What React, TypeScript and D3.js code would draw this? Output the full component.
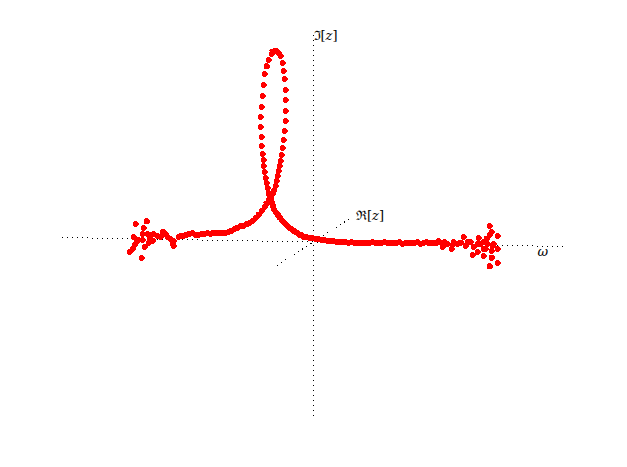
import * as d3 from 'd3';

// [omega, Im z] samples, Re z taken as 0
const leftTail = [
  [-184, -13.4], [-181, -10], [-179, -6.6], [-177, -3.3], [-175, -1], [-180, 1.6],
  [-178, 15], [-167, 17.5], [-170, 11], [-171, 5], [-171, -1], [-169, -8.2],
  [-172, -19], [-165, -4.2], [-164, 0.9], [-166, 5.2], [-163, 3.6], [-161, -1.4],
  [-160, 5.3], [-156, 3.6], [-153, 2], [-151, 7], [-150, 7], [-148, 5.4],
  [-146, 2], [-143, 0.5], [-141, -4.5], [-140, -6.2], [-140, -1.2], [-135, 2.3],
  [-130, 4], [-125, 5.8],
];

const leftRise = [
  [-133, 3.6], [-127, 5.2], [-124, 6.2], [-121, 6.8], [-118, 4.9], [-115, 4.9],
  [-112, 5.5], [-109, 6], [-106, 6.6], [-103, 6.6], [-100, 7.7], [-97, 7.2],
  [-94, 7.3], [-91, 6.9], [-88, 7.4], [-85, 8.9], [-82, 10], [-79, 11.6],
  [-76, 13.1], [-73, 14.2], [-70, 15.2], [-67, 16.3], [-64, 17.8], [-61, 19.9],
  [-58, 22.9], [-55, 26.5], [-52, 30], [-49, 34.1], [-47, 37.6], [-45, 41.2],
];

const loop = [
  [-44, 44.7], [-45, 47.7], [-46, 53.4], [-47, 58.4], [-48, 63.4], [-49, 68.7],
  [-50, 74.7], [-50, 80.7], [-51, 87.4], [-52, 95.4], [-52, 104.4], [-53, 114.4],
  [-53, 124.4], [-52, 134.4], [-51, 145], [-50, 155.7], [-49, 166.7], [-47, 174.7],
  [-45, 181.4], [-42, 187.4], [-41, 189.7], [-39, 190.7], [-37, 190], [-35, 188.4],
  [-33, 185.4], [-31, 178.4], [-30, 170.4], [-29, 162.4], [-28, 151.4], [-28, 141.4],
  [-28, 130.4], [-28, 120.4], [-29, 110.4], [-30, 101.4], [-31, 93.4], [-32, 86.7],
  [-33, 80.7], [-34, 75.4], [-35, 70], [-36, 65], [-37, 60], [-38, 55.4],
  [-39.5, 51.2], [-41, 47.7], [-42.5, 44.2], [-43, 41.7],
];

const rightFall = [
  [-42, 38.7], [-41, 35.7], [-40, 32.7], [-38, 29.7], [-36, 26.8], [-34, 23.9],
  [-32, 21.5], [-30, 19.5], [-28, 17.5], [-26, 15.5], [-24, 14], [-22, 12.6],
  [-20, 11.1], [-18, 9.6], [-16, 8.7], [-14, 7.2], [-12, 6.3], [-10, 5.3],
  [-7, 4.9], [-4, 4.4], [-1, 3.9], [2, 3.5], [5, 3.1], [8, 2.6], [11, 2.2],
  [14, 1.7], [17, 1.8], [20, 1.4], [23, 0.9], [26, 0.5], [29, 0.5], [32, 0.6],
  [35, 0.1], [38, 0.2], [41, -0.2], [44, -0.2], [47, 0.3], [50, 0.4], [53, -0.1],
  [56, 0.5], [59, 1], [62, 0.6], [65, 0.2], [68, 0.7], [71, 0.8], [74, 0.4],
  [77, 0.4], [80, 0.9], [83, 0.5], [86, 1.1], [89, 0.1], [92, 0.7], [95, 1.2],
  [98, 0.3], [101, 0.8], [104, 1.4], [107, 0.4], [110, 1], [113, 2], [116, 0.6],
  [119, 1.6], [122, 0.7], [125, 2.8], [128, 0.9],
];

const rightTail = [
  [129, -2.8], [131, 2], [134, 0.8], [138, -4.1], [139, -0.9], [140, 2.1],
  [144, 0.8], [147, 2.1], [150, 7.5], [152, -0.8], [154, 3.2], [157, 2.5],
  [159, -10.1], [160, -2.5], [164, 0.9], [164, -6.8], [165, 6.6], [167, 1],
  [170, 3.3], [170, -4], [172, -4], [170, -10.7], [173, 6.6], [174, 1],
  [176, 19.4], [178, 13.4], [176, 10.1], [184, 9.5], [179, -0.6], [180, 1.1],
  [178, -5.6], [178, -12.3], [184, -17.6], [176, -21.3], [184, -3.6],
];

const omegaExtent = [-251, 252];
const imagExtent = [-174, 211];
const realExtent = [-1, 1];

const W = 627;
const H = 467;

// oblique projection of (omega, re, im) onto the page
const xW = d3.scaleLinear().domain([-250, 250]).range([63, 563]);
const yW = d3.scaleLinear().domain([-250, 250]).range([237, 246]);
const yI = d3.scaleLinear().domain([0, 100]).range([0, -100]);
const xR = d3.scaleLinear().domain([-1, 1]).range([-36, 37]);
const yR = d3.scaleLinear().domain([-1, 1]).range([24, -23]);

const project = (w: number, re: number, im: number): [number, number] => [
  xW(w) + xR(re),
  yW(w) + yI(im) + yR(re),
];

// matlab-ish dot marker: small rounded diamond
const dot = {
  draw(ctx, size) {
    const r = Math.sqrt(size) / 2;
    const c = r * 0.35;
    ctx.moveTo(-c, -r);
    ctx.lineTo(c, -r);
    ctx.lineTo(r, -c);
    ctx.lineTo(r, c);
    ctx.lineTo(c, r);
    ctx.lineTo(-c, r);
    ctx.lineTo(-r, c);
    ctx.lineTo(-r, -c);
    ctx.closePath();
  },
};
const marker = d3.symbol(dot, 36)();

const App = () => {
  const points = [...leftTail, ...leftRise, ...loop, ...rightFall, ...rightTail];
  const line = d3.line();
  const wAxis = line([project(omegaExtent[0], 0, 0), project(omegaExtent[1], 0, 0)]);
  const iAxis = line([project(0, 0, imagExtent[0]), project(0, 0, imagExtent[1])]);
  const rAxis = line([project(0, realExtent[0], 0), project(0, realExtent[1], 0)]);
  const dotted = {
    fill: 'none',
    stroke: '#000',
    strokeWidth: 1,
    strokeDasharray: '1 4',
    shapeRendering: 'crispEdges' as const,
  };
  const [ix, iy] = project(0, 0, imagExtent[1]);
  const [rx, ry] = project(0, realExtent[1], 0);
  const [wx, wy] = project(omegaExtent[1], 0, 0);

  return (
    <svg
      width={W}
      height={H}
      style={{ position: 'absolute', left: 0, top: 0, background: '#fff' }}
      fontFamily="'DejaVu Serif', serif"
      fontSize={13}
    >
      <path d={wAxis} {...dotted} />
      <path d={iAxis} {...dotted} />
      <path d={rAxis} {...dotted} />
      <g fill="#ff0000" shapeRendering="crispEdges">
        {points.map(([w, im], i) => {
          const [x, y] = project(w, 0, im);
          return <path key={i} d={marker} transform={`translate(${x},${y})`} />;
        })}
      </g>
      <text x={ix} y={iy + 9}>
        ℑ[<tspan fontStyle="italic">z</tspan>]
      </text>
      <text x={rx + 6} y={ry + 1}>
        ℜ[<tspan fontStyle="italic">z</tspan>]
      </text>
      <text x={wx - 28} y={wy + 9} fontStyle="italic">
        ω
      </text>
    </svg>
  );
};

export default App;
